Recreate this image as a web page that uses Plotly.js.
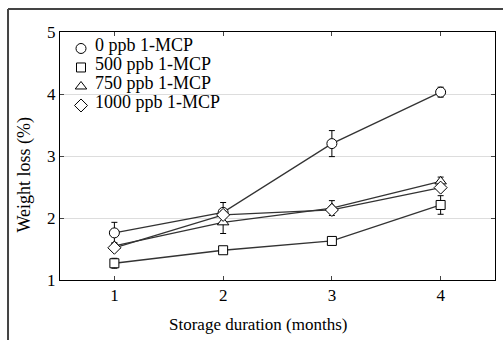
<!DOCTYPE html>
<html><head><meta charset="utf-8">
<script src="https://cdn.plot.ly/plotly-3.0.1.min.js"></script>
<style>html,body{margin:0;padding:0;background:#fff}#c{width:503px;height:340px}</style>
</head><body><div id="c"></div>
<script>
const months = [1, 2, 3, 4];
const seriesNames = ["0 ppb 1-MCP", "500 ppb 1-MCP", "750 ppb 1-MCP", "1000 ppb 1-MCP"];
const loss0 = [1.76, 2.09, 3.20, 4.03];
const err0 = [0.17, 0.16, 0.21, 0.08];
const loss500 = [1.27, 1.48, 1.63, 2.21];
const err500 = [0.08, 0.03, 0.04, 0.15];
const loss750 = [1.55, 1.93, 2.16, 2.59];
const err750 = [0.05, 0.18, 0.12, 0.07];
const loss1000 = [1.52, 2.05, 2.13, 2.49];
const err1000 = [0.04, 0.05, 0.05, 0.04];
const symbols = ["circle", "square", "triangle-up", "diamond"];
const xTitle = "Storage duration (months)";
const yTitle = "Weight loss (%)";

const ys = [loss0, loss500, loss750, loss1000];
const es = [err0, err500, err750, err1000];
const font = "Liberation Serif, Times New Roman, serif";

const lineTraces = ys.map((y, i) => ({
  x: months, y: y, type: "scatter", mode: "lines", showlegend: false, hoverinfo: "skip",
  line: {color: "#333", width: 1.3}
}));
const markerTraces = ys.map((y, i) => ({
  x: months, y: y, name: " ", legendgroup: seriesNames[i], type: "scatter", mode: "markers",
  marker: {symbol: symbols[i], size: i===1?9:10, color: "#fff", line: {color: "#000", width: 1}},
  error_y: {type: "data", array: es[i], visible: true, color: "#000", thickness: 1, width: 3}
}));

const legendTextY = [0.9476, 0.872, 0.795, 0.718];
const annotations = seriesNames.map((n, i) => ({
  text: n, xref: "paper", yref: "paper", x: 0.0759, y: legendTextY[i], xanchor: "left", yanchor: "middle",
  showarrow: false, font: {family: font, size: 18, color: "#000"}
}));
annotations.push({text: xTitle, xref: "paper", yref: "paper", x: 0.455, y: -0.181, xanchor: "center", yanchor: "middle",
  showarrow: false, font: {family: font, size: 17, color: "#000"}});
annotations.push({text: yTitle, xref: "paper", yref: "paper", x: -0.0805, y: 0.425, xanchor: "center", yanchor: "middle",
  textangle: -90, showarrow: false, font: {family: font, size: 18, color: "#000"}});

const layout = {
  width: 503, height: 340,
  margin: {l: 60, r: 8, t: 32, b: 60},
  paper_bgcolor: "#fff", plot_bgcolor: "#fff",
  font: {family: font, size: 17, color: "#000"},
  showlegend: true,
  legend: {x: 0.0023, y: 0.992, xanchor: "left", yanchor: "top", bgcolor: "rgba(0,0,0,0)",
           font: {family: font, size: 12, color: "#000"}, tracegroupgap: 0, itemwidth: 30},
  xaxis: {range: [0.5, 4.5], tickvals: months, ticktext: ["1","2","3","4"], ticks: "inside", ticklen: 4,
          showline: true, linecolor: "#000", linewidth: 1, mirror: "ticks", showgrid: false, zeroline: false,
          tickfont: {family: font, size: 17}},
  yaxis: {range: [1, 5], tickvals: [1,2,3,4,5], ticks: "inside", ticklen: 4,
          showline: true, linecolor: "#000", linewidth: 1, mirror: "ticks",
          showgrid: true, gridcolor: "#ddd", gridwidth: 1, zeroline: false,
          tickfont: {family: font, size: 17}},
  annotations: annotations,
  shapes: [
    {type: "line", xref: "paper", yref: "paper", x0: -0.1195, x1: 1.02, y0: 1.0927, y1: 1.0927, line: {color: "#444", width: 2}},
    {type: "line", xref: "paper", yref: "paper", x0: -0.1195, x1: -0.1195, y0: 1.0927, y1: -0.25, line: {color: "#444", width: 2}}
  ]
};
Plotly.newPlot("c", lineTraces.concat(markerTraces), layout, {displayModeBar: false, staticPlot: true});
</script>
</body></html>
